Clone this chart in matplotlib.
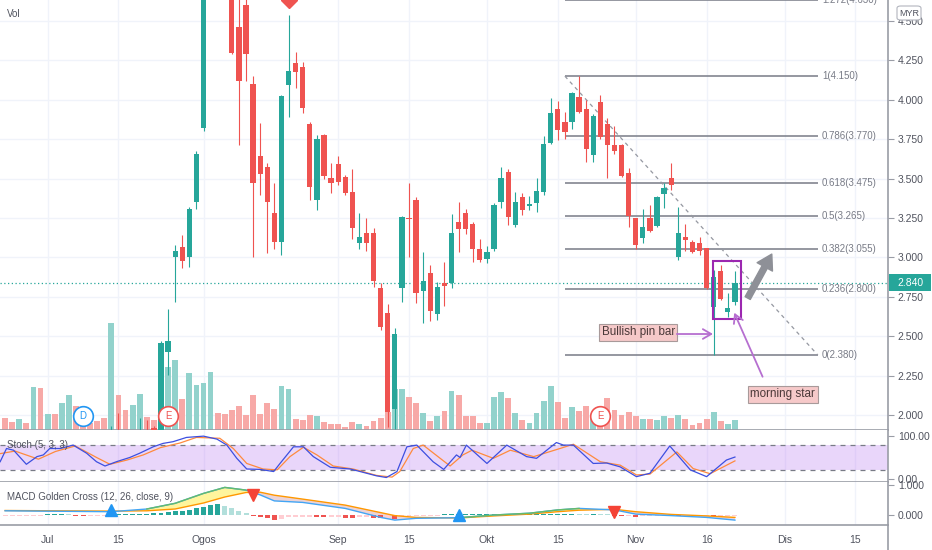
import numpy as np
import matplotlib
matplotlib.use("Agg")
import matplotlib.pyplot as plt
from matplotlib import transforms
from matplotlib.patches import Rectangle, FancyArrowPatch, FancyBboxPatch
from matplotlib.lines import Line2D

plt.rcParams['font.family'] = ['Liberation Sans', 'DejaVu Sans']

# ---------------- data ----------------
opens = [1.78, 1.76, 1.74, 1.78, 1.76, 1.83, 1.79, 1.82, 1.80, 1.85,
         1.87, 1.83, 1.81, 1.80, 1.78, 1.77, 1.88, 1.86, 1.84, 1.88,
         1.90, 1.92, 1.88, 2.40, 3.002, 3.066, 3.002, 3.351, 3.821, 4.75,
         5.05, 4.90, 4.80, 4.462, 4.601, 4.100, 3.643, 3.573, 3.282, 3.097,
         4.094, 4.233, 4.208, 3.846, 3.364, 3.776, 3.504, 3.592, 3.510, 3.415,
         3.091, 3.155, 3.155, 2.806, 2.647, 2.038, 2.806, 3.250, 3.364, 2.787,
         2.901, 2.641, 2.837, 2.837, 3.224, 3.282, 3.212, 3.053, 2.990, 3.053,
         3.351, 3.542, 3.205, 3.383, 3.326, 3.345, 3.415, 3.726, 3.941, 3.859,
         3.859, 4.018, 3.941, 3.650, 3.986, 3.846, 3.713, 3.713, 3.535, 3.250,
         3.123, 3.250, 3.199, 3.402, 3.504, 3.002, 3.129, 3.097, 3.091, 3.059,
         2.685, 2.913, 2.653, 2.717]
highs = [1.80, 1.78, 1.79, 1.79, 1.85, 1.86, 1.83, 1.84, 1.86, 1.89,
         1.88, 1.85, 1.83, 1.82, 1.80, 1.93, 2.01, 1.88, 1.89, 1.98,
         1.97, 1.93, 2.47, 2.672, 3.079, 3.142, 3.320, 3.675, 4.80, 5.20,
         5.30, 5.00, 4.85, 4.65, 4.66, 4.151, 3.853, 3.599, 3.472, 4.030,
         4.538, 4.303, 4.240, 3.860, 3.776, 3.780, 3.599, 3.643, 3.520, 3.561,
         3.282, 3.250, 3.186, 2.837, 2.704, 2.552, 3.260, 3.472, 3.383, 3.034,
         2.952, 2.844, 2.971, 3.275, 3.351, 3.307, 3.224, 3.116, 3.072, 3.345,
         3.573, 3.561, 3.415, 3.408, 3.389, 3.504, 3.770, 4.011, 3.992, 3.922,
         4.049, 4.150, 3.998, 3.910, 4.030, 3.884, 3.834, 3.720, 3.567, 3.250,
         3.307, 3.332, 3.390, 3.472, 3.599, 3.320, 3.212, 3.110, 3.129, 3.060,
         2.920, 2.952, 2.774, 2.913]
lows = [1.75, 1.73, 1.73, 1.75, 1.75, 1.77, 1.78, 1.79, 1.79, 1.83,
        1.82, 1.80, 1.79, 1.77, 1.76, 1.76, 1.84, 1.82, 1.83, 1.86,
        1.85, 1.86, 1.87, 2.254, 2.717, 2.933, 2.939, 3.307, 3.800, 4.70,
        4.80, 4.66, 4.290, 3.713, 4.119, 3.002, 3.396, 3.028, 3.053, 3.015,
        3.891, 4.075, 3.916, 3.364, 3.301, 3.500, 3.408, 3.460, 3.396, 3.116,
        3.053, 3.040, 2.812, 2.539, 1.924, 1.911, 2.717, 3.002, 2.710, 2.584,
        2.596, 2.603, 2.691, 2.806, 3.034, 3.148, 2.971, 2.971, 2.964, 3.040,
        3.313, 3.205, 3.193, 3.269, 3.301, 3.288, 3.396, 3.720, 3.745, 3.751,
        3.814, 3.916, 3.605, 3.605, 3.750, 3.504, 3.656, 3.510, 3.193, 3.053,
        3.091, 3.160, 3.190, 3.313, 3.427, 2.983, 3.040, 3.030, 3.015, 2.800,
        2.380, 2.730, 2.622, 2.698]
closes = [1.76, 1.74, 1.78, 1.76, 1.83, 1.79, 1.82, 1.80, 1.85, 1.87,
          1.83, 1.81, 1.80, 1.78, 1.77, 1.88, 1.86, 1.84, 1.88, 1.90,
          1.87, 1.88, 2.455, 2.469, 3.040, 2.977, 3.307, 3.656, 4.75, 5.05,
          4.90, 4.75, 4.297, 4.119, 4.290, 3.472, 3.529, 3.351, 3.097, 4.024,
          4.183, 4.176, 3.948, 3.446, 3.751, 3.516, 3.472, 3.478, 3.408, 3.186,
          3.129, 3.091, 2.850, 2.558, 2.019, 2.514, 3.256, 3.243, 2.774, 2.850,
          2.660, 2.812, 2.818, 3.155, 3.180, 3.180, 3.053, 2.983, 3.034, 3.332,
          3.504, 3.256, 3.351, 3.301, 3.339, 3.421, 3.719, 3.916, 3.808, 3.795,
          4.043, 3.922, 3.688, 3.897, 3.764, 3.713, 3.675, 3.516, 3.263, 3.079,
          3.193, 3.167, 3.383, 3.440, 3.459, 3.155, 3.110, 3.034, 3.040, 2.806,
          2.876, 2.736, 2.679, 2.840]
volumes = [11.7, 7.7, 11, 6.7, 43, 41.7, 16.3, 15.7, 27.3, 35,
           24, 13.3, 6.7, 8.7, 12, 107.3, 34.7, 20, 25, 36,
           13, 10.3, 77.3, 62.7, 70, 31, 56.7, 45, 46.7, 58.3,
           16.7, 16, 20, 24, 15, 34.7, 16, 26.7, 21, 44,
           40.7, 11, 10.3, 15.3, 13.7, 7.7, 6, 6, 3.3, 7.7,
           6, 4.3, 9.3, 12.3, 17.7, 41, 41, 33.3, 26.7, 17,
           8.7, 14, 19.3, 39.3, 35.3, 14, 14, 7, 7, 33.3,
           38, 32, 16.7, 9.7, 7.3, 17, 28.7, 43.7, 28, 11.7,
           23.3, 19, 24, 15, 18, 31.7, 20, 15, 18.3, 14,
           10.7, 10.7, 10, 14, 11.7, 15, 10.7, 5, 6.7, 10.7,
           18.3, 9.3, 6, 10]

tick_idx = [6, 16, 28, 47, 57, 68, 78, 89, 99, 110, 120]
tick_labels = ['Jul', '15', 'Ogos', 'Sep', '15', 'Okt', '15', 'Nov', '16', 'Dis', '15']
price_ticks = [2.0, 2.25, 2.5, 2.75, 3.0, 3.25, 3.5, 3.75, 4.0, 4.25, 4.5]
last_price = 2.840

fib_ratios = [1.272, 1, 0.786, 0.618, 0.5, 0.382, 0.236, 0]
fib_prices = [4.630, 4.150, 3.770, 3.475, 3.265, 3.055, 2.800, 2.380]
fib_span = [79, 114.7]

stoch_k_x = [-0.7, 0.2, 1.2, 3.0, 4.5, 5.4, 6.3, 7.8, 9.6, 11.5, 12.9, 14.1, 15.7, 17.6,
             19.0, 20.9, 22.3, 23.7, 25.6, 28.0, 29.9, 31.3, 32.7, 34.1, 36.0, 37.9,
             38.8, 40.7, 42.1, 43.5, 45.9, 48.7, 50.1, 52.4, 53.8, 55.3, 56.7, 58.1,
             60.4, 61.9, 63.7, 64.2, 65.1, 68.0, 70.8, 73.6, 75.0, 77.8, 78.8, 80.2,
             83.0, 84.9, 86.8, 89.1, 91.0, 93.8, 96.7, 99.0, 101.8, 103]
stoch_k = [40, 71, 67, 34, 52, 56, 71, 71, 79, 60, 40, 30, 40, 50,
           60, 75, 83, 87, 97, 100, 93, 79, 48, 23, 22, 17,
           36, 75, 75, 52, 27, 23, 17, 7, 3, 17, 75, 79,
           40, 22, 56, 50, 79, 36, 79, 52, 48, 85, 79, 79,
           36, 37, 28, 5, 13, 77, 21, 5, 44, 51]
stoch_d_x = [-0.7, 1.4, 4.7, 7.1, 9.9, 12.9, 14.8, 17.2, 19.5, 21.9, 24.7, 27.0, 30.3,
             32.2, 34.1, 36.4, 38.4, 40.2, 42.1, 44.0, 46.3, 49.1, 52.4, 54.6, 55.7,
             57.6, 59.0, 61.4, 62.8, 64.6, 65.9, 68.9, 71.3, 74.6, 78.3, 80.2, 84.0,
             86.8, 89.1, 91.0, 94.8, 97.1, 99.5, 103]
stoch_d = [59, 65, 46, 64, 77, 50, 34, 44, 56, 73, 84, 97, 95,
           71, 36, 23, 21, 52, 74, 56, 30, 23, 8, 4, 17,
           71, 79, 48, 30, 56, 67, 48, 67, 52, 71, 81, 40,
           32, 9, 11, 63, 24, 12, 42]

macd_x = [0, 15, 20, 24, 28, 31, 34, 36, 38, 42, 48, 53, 55, 58, 64, 69, 74, 78, 81, 86,
          89, 94, 99, 103]
macd_line = [0.14, 0.11, 0.20, 0.39, 0.72, 0.92, 0.83, 0.67, 0.47, 0.42, 0.22, -0.08,
             -0.17, -0.11, -0.09, 0.0, 0.06, 0.17, 0.22, 0.17, 0.03, -0.02, -0.08, -0.17]
macd_signal = [0.15, 0.13, 0.14, 0.20, 0.40, 0.60, 0.75, 0.76, 0.66, 0.53, 0.33, 0.08,
               -0.02, -0.08, -0.10, -0.03, 0.03, 0.11, 0.16, 0.19, 0.11, 0.02, -0.03, -0.08]
macd_hist = [-0.03, -0.03, -0.03, -0.03, -0.02, -0.01,
             0.0, 0.01, 0.01, 0.0, -0.01,
             -0.02, -0.02, -0.02, -0.02,
             0.0,
             0.02, 0.03, 0.03, 0.03, 0.04,
             0.06, 0.08, 0.11, 0.13, 0.15, 0.18, 0.22,
             0.27, 0.32, 0.37,
             0.30, 0.22, 0.14, 0.07,
             -0.01,
             -0.06, -0.11, -0.17, -0.13,
             -0.08, -0.06, -0.05, -0.05,
             -0.07, -0.08,
             -0.07, -0.06,
             -0.09, -0.10,
             -0.08, -0.07,
             -0.10, -0.11,
             -0.09,
             -0.12,
             -0.07, -0.04,
             -0.03,
             -0.02, -0.01, -0.01, 0.0, 0.01,
             0.02,
             0.02, 0.02, 0.02,
             0.04, 0.04,
             0.03, 0.03, 0.03, 0.03, 0.03,
             0.03, 0.04, 0.04, 0.04, 0.04, 0.04,
             0.03, 0.02, 0.02, 0.01,
             0.0,
             -0.03, -0.04, -0.04, -0.05, -0.04,
             -0.03, -0.02, -0.02, -0.02,
             -0.03, -0.03, -0.03,
             -0.02, -0.02,
             -0.03, -0.03,
             -0.02, -0.02]
cross_idx = [15, 35, 64, 86]
cross_val = [0.18, 0.66, 0.0, 0.11]
cross_up = [True, False, True, False]

event_idx = [11, 23, 84]
event_letters = ['D', 'E', 'E']
alert_idx = 40

pattern_box = (99.9, 103.9, 2.607, 2.979)
pinbar_label = (89.36, 2.525)
pinbar_arrow = ((94.8, 2.514), (99.9, 2.514))
mstar_label = (109.75, 2.132)
mstar_arrow = ((106.9, 2.243), (102.9, 2.649))
up_arrow = ((104.8, 2.742), (108.2, 3.021))

# ---------------- style ----------------
W, H = 932, 550
PLOT_R = 888
GREEN = '#26a69a'
RED = '#ef5350'
VGREEN = '#92d2cc'
VRED = '#f7a9a7'
GRID = '#f0f3fa'
AXC = '#9a9da6'
TXT = '#50535e'
FIBC = '#787b86'
XLIM = (-0.72, 124.6)


def rect(top, bot):
    return [0, 1 - bot / H, PLOT_R / W, (bot - top) / H]


fig = plt.figure(figsize=(W / 100, H / 100), dpi=100)
fig.patch.set_facecolor('white')

ax_vol = fig.add_axes(rect(0, 430), zorder=0)
ax = fig.add_axes(rect(0, 430), zorder=1)
ax_s = fig.add_axes(rect(430, 482), zorder=1)
ax_m = fig.add_axes(rect(482, 525), zorder=1)
ax.patch.set_alpha(0)

for a in (ax_vol, ax, ax_s, ax_m):
    a.set_xlim(*XLIM)

ax.set_ylim(1.905, 4.633)
ax_vol.set_ylim(0, 430)
ax_s.set_ylim(-7.5, 114.4)
ax_m.set_ylim(-0.333, 1.1)

# ---------- volume + grid (background axes) ----------
x = np.arange(len(closes))
o = np.array(opens); h = np.array(highs); l = np.array(lows); c = np.array(closes)
up = c >= o
ax_vol.axis('off')
for t in tick_idx:
    ax_vol.axvline(t, color=GRID, lw=1.0, zorder=0)
for p in price_ticks:
    ax_vol.add_line(Line2D(list(XLIM), [p, p], transform=ax.transData, color=GRID, lw=1.0, zorder=0))
ax_vol.bar(x, volumes, width=0.82, color=np.where(up, VGREEN, VRED), linewidth=0, zorder=1)
ax_vol.set_xlim(*XLIM)
ax_vol.set_ylim(0, 430)

# ---------- candles ----------
col = np.where(up, GREEN, RED)
ax.vlines(x, l, h, colors=col, lw=0.8, zorder=3)
ax.bar(x, np.maximum(np.abs(c - o), 0.008), bottom=np.minimum(o, c), width=0.74,
       color=col, linewidth=0, zorder=4)

# last price line
ax.axhline(last_price, color=GREEN, lw=0.9, ls=(0, (1, 2)), zorder=2)

# fib retracement
for r, p in zip(fib_ratios, fib_prices):
    ax.hlines(p, fib_span[0], fib_span[1], color=FIBC, lw=1.1, zorder=2)
    ax.text(fib_span[1] + 0.6, p, f"{r:g}({p:.3f})", va='center', ha='left',
            fontsize=7, color=FIBC, clip_on=True, zorder=2)
ax.plot(fib_span, [fib_prices[1], fib_prices[-1]], color='#9598a1', lw=0.9,
        ls=(0, (3, 3)), zorder=2)

# pattern box
ax.add_patch(Rectangle((pattern_box[0], pattern_box[2]), pattern_box[1] - pattern_box[0],
                       pattern_box[3] - pattern_box[2], fill=False, ec='#9c27b0', lw=1.5, zorder=6))

# gray arrow
ax.add_patch(FancyArrowPatch(up_arrow[0], up_arrow[1],
                             arrowstyle='simple,head_width=0.9,head_length=0.75,tail_width=0.3',
                             mutation_scale=14, color='#8e9097', zorder=6, shrinkA=0, shrinkB=0))

# labels with arrows
PURP = '#b66fd0'
box = dict(boxstyle='square,pad=0.22', fc='#f6c9c9', ec='#a89a9a', lw=0.8)
ax.text(*pinbar_label, 'Bullish pin bar', ha='center', va='center', fontsize=8.4,
        color='#4a3838', bbox=box, zorder=7)
ax.annotate('', xy=pinbar_arrow[1], xytext=pinbar_arrow[0],
            arrowprops=dict(arrowstyle='->,head_length=0.6,head_width=0.35', color=PURP,
                            lw=1.3, shrinkA=0, shrinkB=0), zorder=7)
ax.text(*mstar_label, 'morning star', ha='center', va='center', fontsize=8.4,
        color='#4a3838', bbox=box, zorder=7)
ax.annotate('', xy=mstar_arrow[1], xytext=mstar_arrow[0],
            arrowprops=dict(arrowstyle='->,head_length=0.6,head_width=0.35', color=PURP,
                            lw=1.3, shrinkA=0, shrinkB=0), zorder=7)

# event circles
trans_ev = transforms.blended_transform_factory(ax.transData, ax.transAxes)
ev_y = (430 - 416) / 430
for ei, letter in zip(event_idx, event_letters):
    ec = '#2196f3' if letter == 'D' else '#ef5350'
    ax.scatter([ei], [ev_y], s=200, facecolor='white', edgecolors=ec, linewidths=1.2,
               transform=trans_ev, zorder=8, clip_on=False)
    ax.text(ei, ev_y, letter, transform=trans_ev, ha='center', va='center',
            fontsize=7, color=ec, zorder=9)

# alert marker at top
ax.plot([alert_idx], [1.0], marker='D', ms=8, color='#ef5350', transform=trans_ev,
        clip_on=True, zorder=8)

ax.text(7 / PLOT_R, 1 - 14 / 430, 'Vol', transform=ax.transAxes, ha='left', va='center',
        fontsize=7, color=TXT)

# ---------- stochastic ----------
for t in tick_idx:
    ax_s.axvline(t, color=GRID, lw=1.0, zorder=0)
ax_s.axhspan(20, 80, color='#b36cf0', alpha=0.28, lw=0, zorder=1)
ax_s.axhline(80, color=FIBC, lw=0.9, ls=(0, (4, 4)), zorder=2)
ax_s.axhline(20, color=FIBC, lw=0.9, ls=(0, (4, 4)), zorder=2)
ax_s.plot(stoch_d_x, stoch_d, color='#ff8a3d', lw=0.9, zorder=3)
ax_s.plot(stoch_k_x, stoch_k, color='#3d4fe0', lw=0.9, zorder=4)
ax_s.text(7 / PLOT_R, 1 - 15 / 52, 'Stoch (5, 3, 3)', transform=ax_s.transAxes,
          ha='left', va='center', fontsize=7, color=TXT, zorder=5)

# ---------- MACD ----------
for t in tick_idx:
    ax_m.axvline(t, color=GRID, lw=1.0, zorder=0)
mx = np.array(macd_x, float)
ml = np.array(macd_line)
ms_ = np.array(macd_signal)
ax_m.fill_between(mx, ml, ms_, where=ml >= ms_, interpolate=True, color='#fff59d',
                  lw=0, zorder=1)
ax_m.fill_between(mx, ml, ms_, where=ml < ms_, interpolate=True, color='#ecd3d6',
                  lw=0, zorder=1)
hist = np.array(macd_hist)
prev = np.concatenate([[hist[0]], hist[:-1]])
hcol = np.where(hist >= 0, np.where(hist >= prev, '#26a69a', '#b2dfdb'),
                np.where(hist < prev, '#ef5350', '#ffcdd2'))
hx = np.arange(len(hist))
ax_m.bar(hx, np.where(np.abs(hist) < 0.012, np.sign(hist + 1e-9) * 0.02, hist),
         width=0.7, color=hcol, linewidth=0, zorder=2)
ax_m.plot(mx, ms_, color='#ff9800', lw=1.0, zorder=3)
ax_m.plot(mx, ml, color='#42a5f5', lw=1.0, zorder=4)
ml_up = np.ma.masked_where(ml < ms_, ml)
ax_m.plot(mx, ml_up, color='#66bb6a', lw=1.0, zorder=4)
for ci, cv, cu in zip(cross_idx, cross_val, cross_up):
    ax_m.plot([ci], [cv], marker='^' if cu else 'v', ms=8.5,
              color='#2196f3' if cu else '#f44336', zorder=6, clip_on=False)
ax_m.text(7 / PLOT_R, 1 - 15 / 43, 'MACD Golden Cross (12, 26, close, 9)',
          transform=ax_m.transAxes, ha='left', va='center', fontsize=7, color=TXT, zorder=5)

# ---------- axes styling ----------
for a in (ax, ax_s, ax_m):
    for side in ('left', 'top'):
        a.spines[side].set_visible(False)
    for side in ('right', 'bottom'):
        a.spines[side].set_color(AXC)
        a.spines[side].set_linewidth(1.2)
    a.yaxis.tick_right()
    a.tick_params(axis='y', length=4, width=0.8, color=AXC, labelsize=7.5,
                  labelcolor=TXT, pad=3)
    a.set_xticks(tick_idx)
    a.tick_params(axis='x', length=0, labelbottom=False)

ax.set_yticks(price_ticks)
ax.set_yticklabels([f"{p:.3f}" for p in price_ticks])
ax_s.set_yticks([0, 100])
ax_s.set_yticklabels(['0.00', '100.00'])
ax_m.set_yticks([0, 1])
ax_m.set_yticklabels(['0.000', '1.000'])
ax_m.set_xticklabels(tick_labels)
ax_m.tick_params(axis='x', labelbottom=True, labelsize=7.5, labelcolor=TXT, pad=7)

# vertical axis line below MACD pane
fig.add_artist(Line2D([PLOT_R / W, PLOT_R / W], [0, 1 - 525 / H], transform=fig.transFigure,
                      color=AXC, lw=1.2))

# last price tag
trans_tag = transforms.blended_transform_factory(fig.transFigure, ax.transData)
fig.add_artist(Rectangle((889 / W, last_price - 0.054), (W - 890) / W, 0.108,
                         transform=trans_tag, fc=GREEN, ec='none', zorder=5))
fig.text(910 / W, last_price, f"{last_price:.3f}", transform=trans_tag, ha='center',
         va='center', fontsize=7.5, color='white', zorder=12)

# currency box
fig.add_artist(FancyBboxPatch((897 / W, 1 - 20 / H), 24 / W, 14 / H,
                              boxstyle='round,pad=0,rounding_size=0.004',
                              transform=fig.transFigure, fc='white', ec='#b2b5be', lw=0.8,
                              zorder=10))
fig.text(909 / W, 1 - 13 / H, 'MYR', ha='center', va='center', fontsize=6.5, color=TXT,
         zorder=11)

fig.savefig('out.png', dpi=100, facecolor='white')
